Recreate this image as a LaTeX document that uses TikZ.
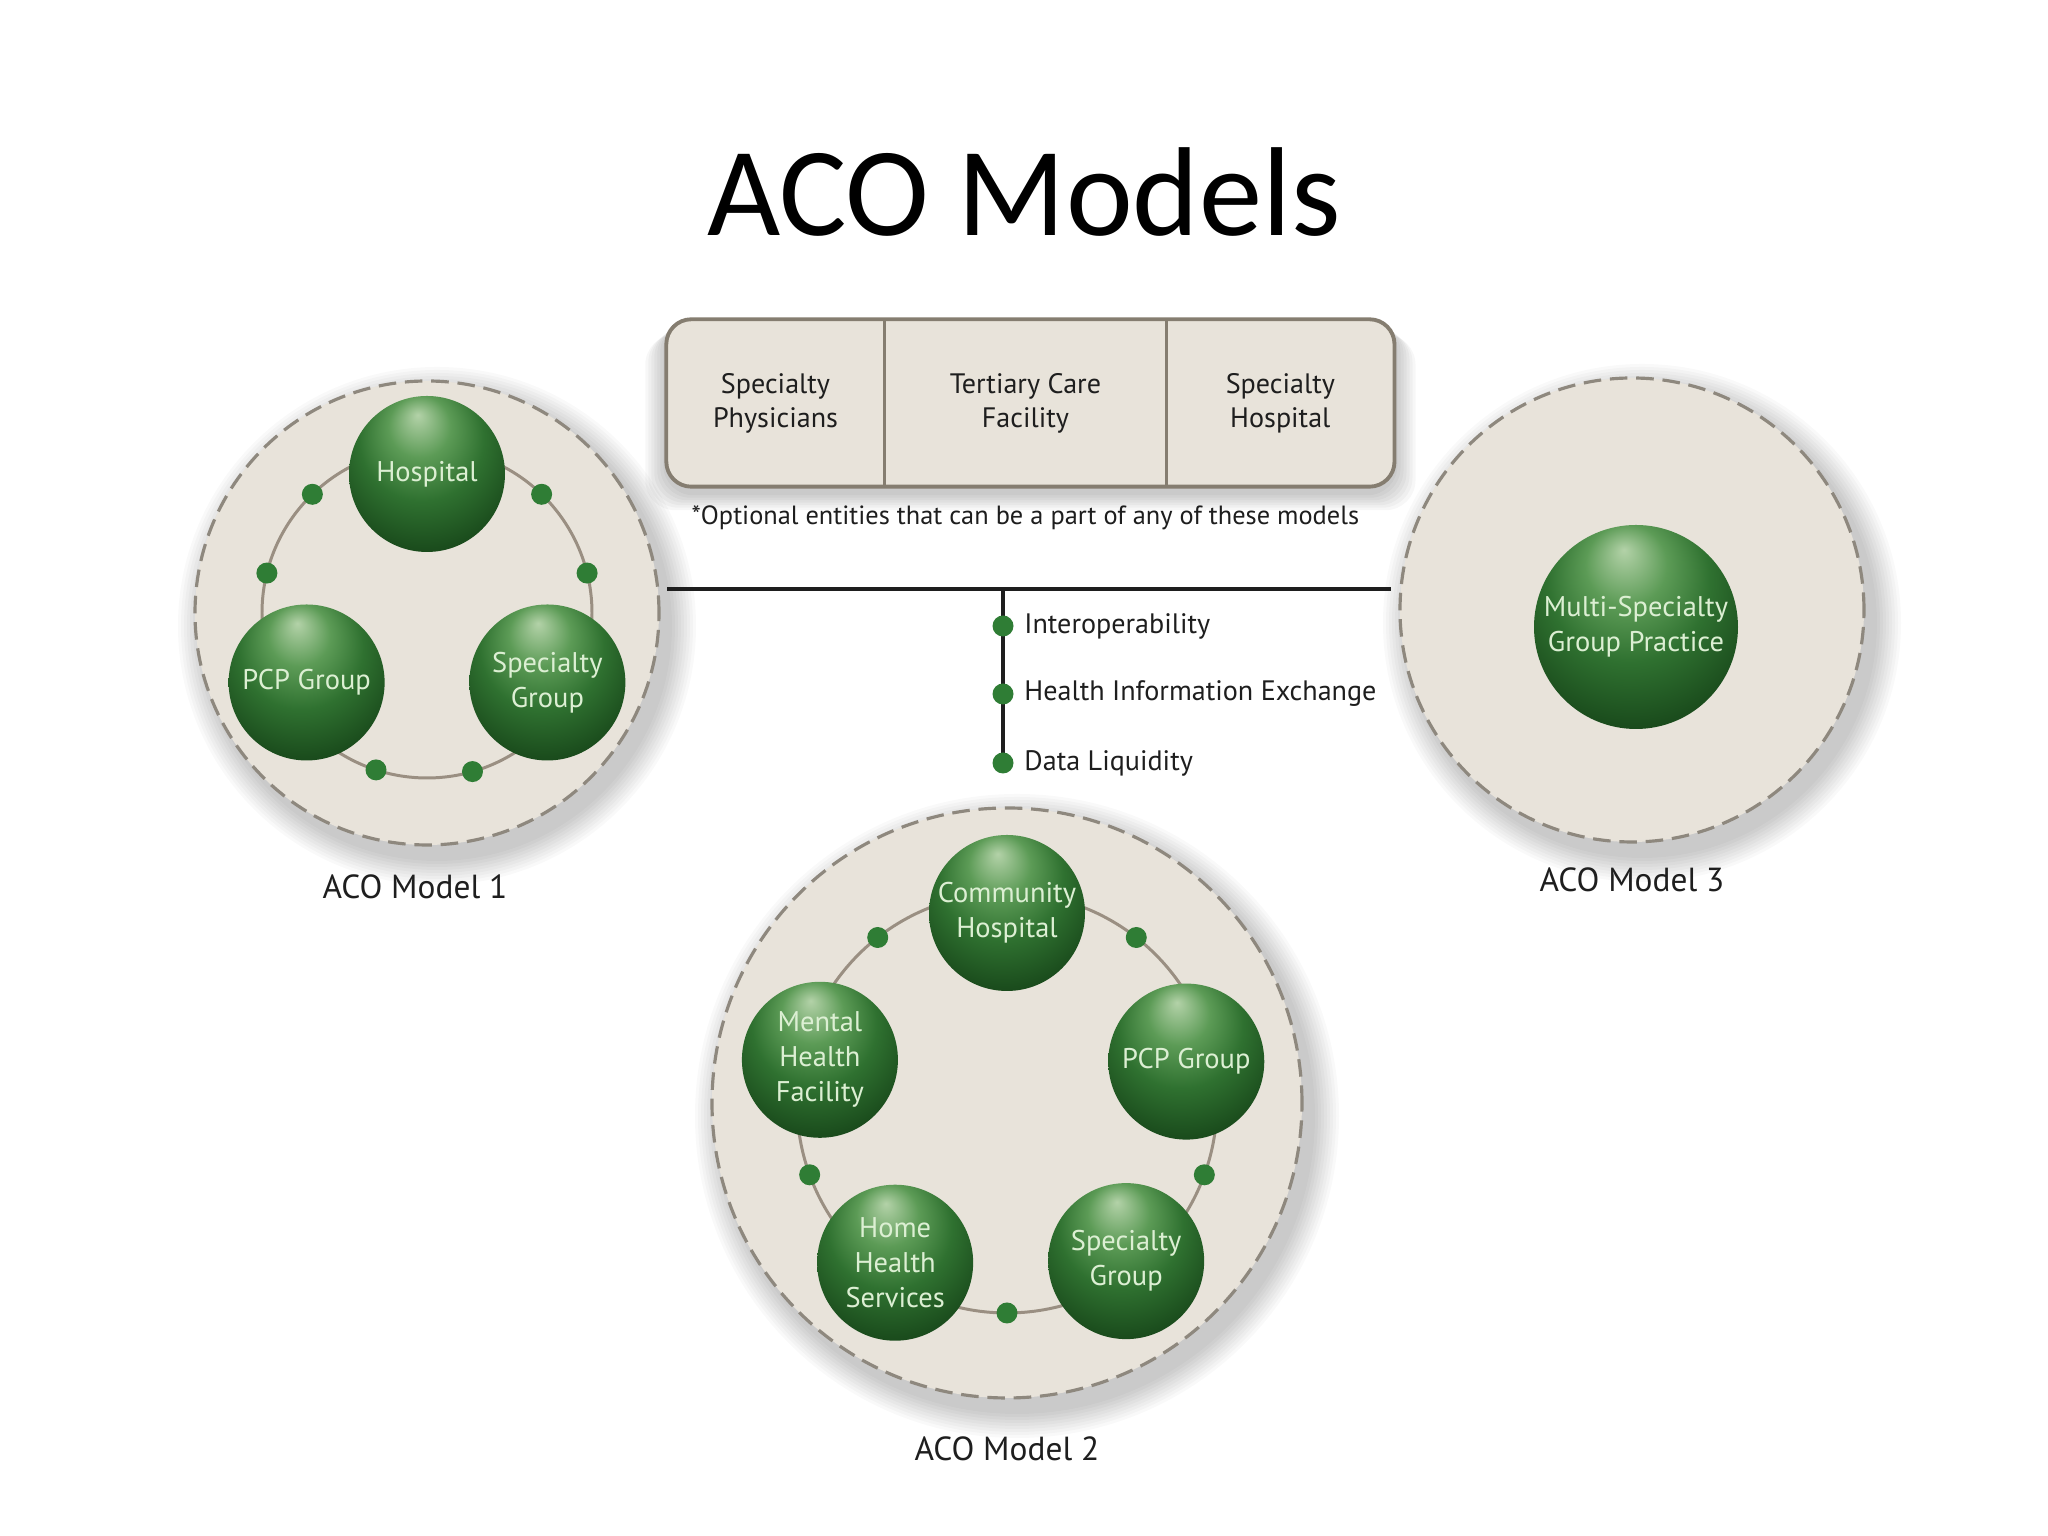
\documentclass[tikz,border=0pt]{standalone}
\usepackage{fontspec}
\setmainfont{PT Sans}
\newfontfamily\titlefont{Carlito}
\usepackage{tikz}
\usetikzlibrary{positioning,calc,backgrounds}
\definecolor{disc}{HTML}{E8E3DA}
\definecolor{rim}{HTML}{8E887E}
\definecolor{ringc}{HTML}{9A8F82}
\definecolor{dotg}{HTML}{2F7D35}
\definecolor{frame}{HTML}{857D70}
\definecolor{ink}{HTML}{1E1E1E}
\definecolor{balltxt}{HTML}{DCEFD3}
\definecolor{hl}{HTML}{B3D2A8}
\definecolor{g0}{HTML}{5C9B56}
\definecolor{g1}{HTML}{2F7130}
\definecolor{g2}{HTML}{1B4D1D}
\definecolor{g3}{HTML}{0F2C10}
\pgfdeclareradialshading{greenball}{\pgfpoint{-3bp}{19bp}}{%
  color(0bp)=(hl); color(10bp)=(g0); color(20bp)=(g1); color(31bp)=(g2);
  color(42bp)=(g3); color(50bp)=(g3)}
\tikzset{
  model/.style={circle, fill=disc, draw=rim, line width=0.9pt,
                dash pattern=on 5pt off 2.5pt, inner sep=0pt},
  ringl/.style={draw=ringc, line width=0.85pt},
  ball/.style={circle, shading=greenball, inner sep=0pt, minimum size=1.56cm,
               align=center, text=balltxt, font=\fontsize{8.1}{10}\selectfont},
  knot/.style={circle, fill=dotg, inner sep=0pt, minimum size=2.1mm},
  cell/.style={minimum height=1.66cm, inner sep=0pt, align=center,
               font=\fontsize{8}{9.7}\selectfont, text=ink},
  optbox/.style={draw=frame, line width=1.1pt, fill=disc, rounded corners=2.5mm},
  divider/.style={draw=frame, line width=0.8pt},
  bus/.style={line width=1.2pt, draw=ink},
  mlabel/.style={font=\fontsize{9.5}{11}\selectfont, text=ink},
  tag/.style={font=\fontsize{8}{10}\selectfont, text=ink, inner sep=1pt},
}
\begin{document}
\begin{tikzpicture}
  \useasboundingbox (0,0) rectangle (20.48,15.36);
  \begin{scope}[on background layer]
    \fill[white] (0,0) rectangle (20.48,15.36);
  \end{scope}

  \node[font=\titlefont\fontsize{36}{40}\selectfont] (title) at (10.24,13.44) {ACO Models};

  % optional entities
  \node[cell, minimum width=2.17cm] (c1) at (7.755,11.33) {Specialty\\Physicians};
  \node[cell, minimum width=2.80cm, right=0pt of c1] (c2) {Tertiary Care\\Facility};
  \node[cell, minimum width=2.27cm, right=0pt of c2] (c3) {Specialty\\Hospital};
  \begin{scope}[on background layer]
    \foreach \k in {1,...,7}
      \fill[black, opacity=0.03, rounded corners=3mm]
        ([shift={(-0.03*\k,0.02-0.025*\k)}]c1.north west) rectangle
        ([shift={(0.03*\k,-0.06-0.025*\k)}]c3.south east);
    \draw[optbox] (c1.north west) rectangle (c3.south east);
  \end{scope}
  \draw[divider] (c1.north east) -- (c1.south east);
  \draw[divider] (c2.north east) -- (c2.south east);
  \node[font=\fontsize{7.5}{9}\selectfont, text=ink, below=0.07cm of c2] (note)
       {*Optional entities that can be a part of any of these models};

  % the three models
  \node[model, minimum size=4.64cm] (m1) at (4.27,9.23) {};
  \node[model, minimum size=5.90cm] (m2) at (10.07,4.33) {};
  \node[model, minimum size=4.64cm] (m3) at (16.32,9.26) {};
  \begin{scope}[on background layer]
    \foreach \m/\r in {m1/2.32, m2/2.95, m3/2.32}
      \foreach \k in {1,...,9}
        \fill[black, opacity=0.025] ([shift={(0.1,-0.13)}]\m.center) circle ({\r+0.03*\k});
  \end{scope}

  % model 1
  \draw[ringl] (m1.center) circle (1.65);
  \foreach \a in {14,46,134,166,252,286}
    \node[knot] (ka\a) at ($(m1.center)+(\a:1.65)$) {};
  \node[ball] (hosp1) at ($(m1.center)+(90:1.39)$) {Hospital};
  \node[ball] (pcp1) at ($(m1.center)+(210:1.39)$) {PCP Group};
  \node[ball] (spec1) at ($(m1.center)+(330:1.39)$) {Specialty\\Group};
  \node[mlabel, below=0.16cm of m1, xshift=-0.12cm] (lab1) {ACO Model 1};

  % model 2
  \draw[ringl] (m2.center) circle (2.10);
  \foreach \a in {52,128,200,270,340}
    \node[knot] (kb\a) at ($(m2.center)+(\a:2.10)$) {};
  \node[ball] (hosp2) at ($(m2.center)+(90:1.90)$) {Community\\Hospital};
  \node[ball] (pcp2) at ($(m2.center)+(13:1.84)$) {PCP Group};
  \node[ball] (spec2) at ($(m2.center)+(-53:1.98)$) {Specialty\\Group};
  \node[ball] (home2) at ($(m2.center)+(-125:1.95)$) {Home\\Health\\Services};
  \node[ball] (ment2) at ($(m2.center)+(167:1.92)$) {Mental\\Health\\Facility};
  \node[mlabel, below=0.25cm of m2] (lab2) {ACO Model 2};

  % model 3
  \node[ball, minimum size=2.04cm] (msgp) at (16.36,9.09) {Multi-Specialty\\Group Practice};
  \node[mlabel, below=0.12cm of m3] (lab3) {ACO Model 3};

  % link between the models
  \coordinate (busL) at (6.67,9.47);
  \coordinate (busR) at (13.91,9.47);
  \coordinate (busM) at (10.03,9.47);
  \coordinate (busE) at (10.03,7.65);
  \draw[bus] (busL) -- (busR);
  \draw[bus] (busM) -- (busE);
  \foreach \y/\t [count=\i] in {9.10/Interoperability, 8.42/Health Information Exchange,
                                 7.73/Data Liquidity}{
    \node[knot, minimum width=1.8mm] (iop\i) at (10.03,\y) {};
    \node[tag, right=0.06cm of iop\i] (iopt\i) {\t};
  }
\end{tikzpicture}
\end{document}
